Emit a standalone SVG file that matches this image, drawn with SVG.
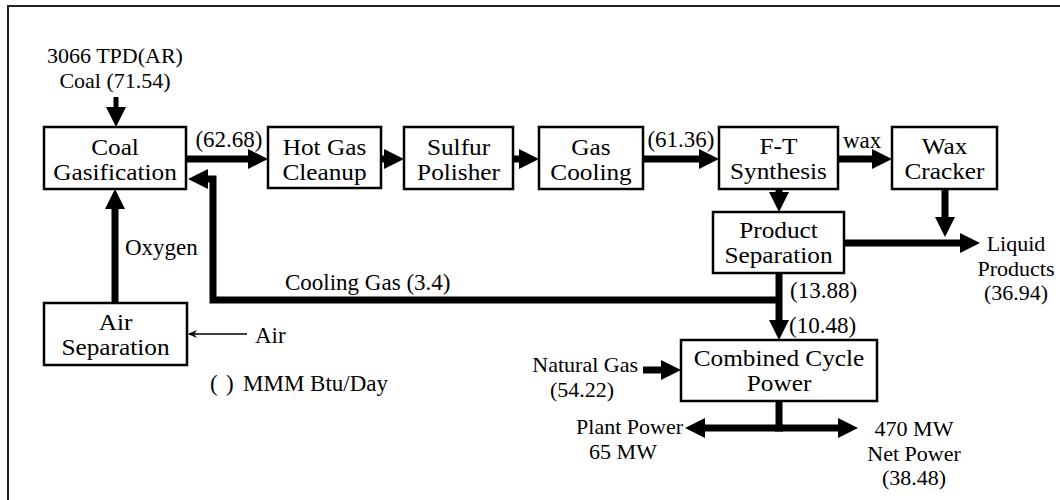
<svg xmlns="http://www.w3.org/2000/svg" width="1060" height="500" viewBox="0 0 1060 500">
<style>
.box{fill:#fff;stroke:#000;stroke-width:2.5}
.bl{font-family:"Liberation Serif","Times New Roman",serif;font-size:23px;fill:#000;text-anchor:middle}
.lb{font-family:"Liberation Serif","Times New Roman",serif;font-size:23px;fill:#000}
.st{font-size:22px}
.c{text-anchor:middle}
.e{text-anchor:end}
.thick{fill:none;stroke:#000;stroke-width:7;marker-end:url(#ah)}
.th{fill:none;stroke:#000;stroke-width:7;stroke-linejoin:miter}
.thin{fill:none;stroke:#000;stroke-width:1.3;marker-end:url(#sh)}
</style>
<defs>
<marker id="ah" markerUnits="userSpaceOnUse" markerWidth="20" markerHeight="20" refX="2" refY="10" orient="auto"><path d="M0,0 L20,10 L0,20 z" fill="#000"/></marker>
<marker id="sh" markerUnits="userSpaceOnUse" markerWidth="10" markerHeight="10" refX="8" refY="5" orient="auto"><path d="M0,1 L9,5 L0,9 L3,5 z" fill="#000"/></marker>
</defs>
<rect x="8" y="6" width="1070" height="510" fill="none" stroke="#222" stroke-width="2"/>

<g id="connectors">
<path class="thick" d="M116 97 V109" style="stroke-width:5"/>
<path class="thick" d="M186 159 H250"/>
<path class="thick" d="M381 159 H386"/>
<path class="thick" d="M513 159 H521"/>
<path class="thick" d="M643 159 H701"/>
<path class="thick" d="M838 159 H874"/>
<path class="thick" d="M779 189 V194"/>
<path class="thick" d="M945 189 V219"/>
<path class="thick" d="M844 243 H962"/>
<path class="thick" d="M779 300 H213 V179 H206"/>
<path class="thick" d="M779 273 V322"/>
<path class="thick" d="M115 303 V207"/>
<path class="thin" d="M247 334 H189"/>
<path class="thick" d="M643 370 H663"/>
<path class="th" d="M779 401 V428"/>
<path class="thick" d="M775 428 H840"/>
<path class="thick" d="M783 428 H703"/>
</g>

<g id="coal-gasification"><rect class="box" x="44" y="127" width="142" height="62"/><text class="bl" transform="translate(115 0) scale(1.1 1)"><tspan x="0" y="155">Coal</tspan><tspan x="0" y="180.5">Gasification</tspan></text></g>
<g id="hot-gas-cleanup"><rect class="box" x="268" y="127" width="113" height="61"/><text class="bl" transform="translate(324.5 0) scale(1.1 1)"><tspan x="0" y="155">Hot Gas</tspan><tspan x="0" y="180.5">Cleanup</tspan></text></g>
<g id="sulfur-polisher"><rect class="box" x="404" y="127" width="109" height="62"/><text class="bl" transform="translate(458.5 0) scale(1.1 1)"><tspan x="0" y="155">Sulfur</tspan><tspan x="0" y="180.5">Polisher</tspan></text></g>
<g id="gas-cooling"><rect class="box" x="539" y="127" width="104" height="62"/><text class="bl" transform="translate(591 0) scale(1.1 1)"><tspan x="0" y="155">Gas</tspan><tspan x="0" y="180.5">Cooling</tspan></text></g>
<g id="ft-synthesis"><rect class="box" x="719" y="127" width="119" height="62"/><text class="bl" transform="translate(778.5 0) scale(1.1 1)"><tspan x="0" y="154">F-T</tspan><tspan x="0" y="179.5">Synthesis</tspan></text></g>
<g id="wax-cracker"><rect class="box" x="892" y="127" width="105" height="62"/><text class="bl" transform="translate(944.5 0) scale(1.1 1)"><tspan x="0" y="154">Wax</tspan><tspan x="0" y="179.5">Cracker</tspan></text></g>
<g id="product-separation"><rect class="box" x="713" y="212" width="131" height="61"/><text class="bl" transform="translate(778.5 0) scale(1.1 1)"><tspan x="0" y="238">Product</tspan><tspan x="0" y="263.5">Separation</tspan></text></g>
<g id="air-separation"><rect class="box" x="44" y="303" width="143" height="62"/><text class="bl" transform="translate(115.5 0) scale(1.1 1)"><tspan x="0" y="330">Air</tspan><tspan x="0" y="355.5">Separation</tspan></text></g>
<g id="combined-cycle"><rect class="box" x="681" y="340" width="196" height="61"/><text class="bl" transform="translate(779 0) scale(1.1 1)"><tspan x="0" y="366">Combined Cycle</tspan><tspan x="0" y="391.5">Power</tspan></text></g>

<g id="labels">
<text class="lb st c"><tspan x="115" y="63">3066 TPD(AR)</tspan><tspan x="115" y="88">Coal (71.54)</tspan></text>
<text class="lb c" x="229" y="147">(62.68)</text>
<text class="lb c" x="681" y="147">(61.36)</text>
<text class="lb" x="843" y="148">wax</text>
<text class="lb st c"><tspan x="1016" y="251">Liquid</tspan><tspan x="1016" y="275.5">Products</tspan><tspan x="1016" y="300">(36.94)</tspan></text>
<text class="lb" x="125" y="255">Oxygen</text>
<text class="lb" x="285" y="290">Cooling Gas (3.4)</text>
<text class="lb" x="790" y="298">(13.88)</text>
<text class="lb" x="789" y="333">(10.48)</text>
<text class="lb" x="255" y="343">Air</text>
<text class="lb st"><tspan class="e" x="638" y="372">Natural Gas</tspan><tspan class="c" x="582" y="396.5">(54.22)</tspan></text>
<text class="lb"><tspan x="210" y="391">(</tspan><tspan x="226" y="391">)</tspan><tspan x="243" y="391">MMM Btu/Day</tspan></text>
<text class="lb st"><tspan class="e" x="683" y="434">Plant Power</tspan><tspan class="c" x="623" y="458.5">65 MW</tspan></text>
<text class="lb st c"><tspan x="914" y="436">470 MW</tspan><tspan x="914" y="460.5">Net Power</tspan><tspan x="914" y="485">(38.48)</tspan></text>
</g>
</svg>
